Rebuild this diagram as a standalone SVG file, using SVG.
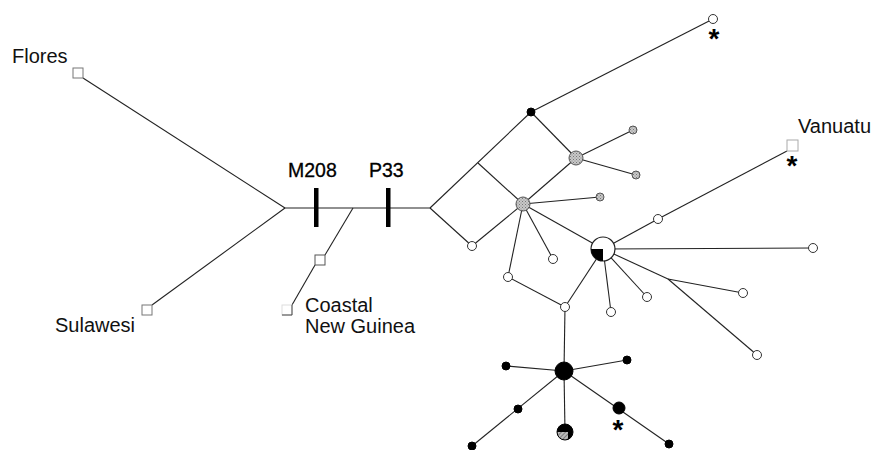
<svg xmlns="http://www.w3.org/2000/svg" width="872" height="450" viewBox="0 0 872 450">
<defs>
<style>
.lbl{font-family:"Liberation Sans",Arial,sans-serif;font-size:20px;fill:#111}
.mut{font-family:"Liberation Sans",Arial,sans-serif;font-size:19.5px;fill:#000;stroke:#000;stroke-width:0.3}
.ast{font-family:"Liberation Sans",Arial,sans-serif;font-size:28px;font-weight:bold;fill:#000;text-anchor:middle}
.e{stroke:#222;stroke-width:1.1;fill:none}
.sq{fill:#fff;stroke:#777;stroke-width:1}
.w{fill:#fff;stroke:#333;stroke-width:1}
.b{fill:#000;stroke:#000;stroke-width:1}
.g{fill:url(#stip);stroke:#555;stroke-width:1}
.bar{fill:#000}
</style>
<pattern id="stip" width="3" height="3" patternUnits="userSpaceOnUse">
<rect width="3" height="3" fill="#c8c8c8"/>
<rect width="1" height="1" fill="#777"/>
<rect x="1.5" y="1.5" width="1" height="1" fill="#888"/>
</pattern>
<pattern id="hatch" width="3" height="3" patternUnits="userSpaceOnUse" patternTransform="rotate(45)">
<rect width="3" height="3" fill="#bbb"/>
<line x1="0" y1="0" x2="0" y2="3" stroke="#555" stroke-width="1.2"/>
</pattern>
<clipPath id="hclip"><circle cx="565" cy="432" r="8"/></clipPath>
</defs>

<g id="connectors">
<line class="e" x1="83" y1="78" x2="285" y2="208"/>
<line class="e" x1="152" y1="305" x2="285" y2="208"/>
<line class="e" x1="285" y1="208" x2="430" y2="208"/>
<line class="e" x1="353" y1="208" x2="325" y2="255"/>
<line class="e" x1="315" y1="265" x2="292" y2="305"/>
<line class="e" x1="430" y1="208" x2="531" y2="112"/>
<line class="e" x1="430" y1="208" x2="472" y2="246"/>
<line class="e" x1="472" y1="246" x2="523" y2="204"/>
<line class="e" x1="478" y1="163" x2="523" y2="204"/>
<line class="e" x1="531" y1="112" x2="576" y2="158"/>
<line class="e" x1="576" y1="158" x2="523" y2="204"/>
<line class="e" x1="531" y1="112" x2="713" y2="19"/>
<line class="e" x1="576" y1="158" x2="633" y2="130"/>
<line class="e" x1="576" y1="158" x2="636" y2="175"/>
<line class="e" x1="523" y1="204" x2="600" y2="197"/>
<line class="e" x1="523" y1="204" x2="508" y2="277"/>
<line class="e" x1="523" y1="204" x2="553" y2="259"/>
<line class="e" x1="523" y1="204" x2="603" y2="249"/>
<line class="e" x1="508" y1="277" x2="565" y2="307"/>
<line class="e" x1="565" y1="307" x2="603" y2="249"/>
<line class="e" x1="565" y1="307" x2="564" y2="371"/>
<line class="e" x1="603" y1="249" x2="611" y2="312"/>
<line class="e" x1="603" y1="249" x2="647" y2="297"/>
<line class="e" x1="603" y1="249" x2="668" y2="279"/>
<line class="e" x1="668" y1="279" x2="743" y2="293"/>
<line class="e" x1="668" y1="279" x2="757" y2="355"/>
<line class="e" x1="603" y1="249" x2="813" y2="248"/>
<line class="e" x1="603" y1="249" x2="658" y2="219"/>
<line class="e" x1="658" y1="219" x2="787" y2="151"/>
<line class="e" x1="564" y1="371" x2="506" y2="366"/>
<line class="e" x1="564" y1="371" x2="627" y2="360"/>
<line class="e" x1="564" y1="371" x2="472" y2="446"/>
<line class="e" x1="564" y1="371" x2="565" y2="432"/>
<line class="e" x1="564" y1="371" x2="669" y2="444"/>
</g>

<g id="mutations">
<rect class="bar" x="314" y="188" width="4.5" height="39"/>
<rect class="bar" x="386" y="188" width="4.5" height="39"/>
<text class="mut" x="288" y="177">M208</text>
<text class="mut" x="369" y="177">P33</text>
</g>

<g id="flores"><rect class="sq" x="73" y="68" width="10" height="10"/><text class="lbl" x="12" y="63">Flores</text></g>
<g id="sulawesi"><rect class="sq" x="142" y="305" width="10" height="10"/><text class="lbl" x="55" y="332">Sulawesi</text></g>
<g id="coastal1"><rect class="sq" x="315" y="255" width="10" height="10" style="stroke:#555"/></g>
<g id="coastal2">
<rect x="282" y="305" width="10" height="10" fill="#fff" stroke="#ddd" stroke-width="1"/>
<path d="M292,305 V315 H282" fill="none" stroke="#444" stroke-width="1"/>
<text class="lbl" x="305" y="312">Coastal</text>
<text class="lbl" x="305" y="333">New Guinea</text>
</g>
<g id="vanuatu"><rect class="sq" x="787" y="140" width="11" height="11" style="stroke:#aaa"/><text class="lbl" x="798" y="133">Vanuatu</text><text class="ast" x="792" y="175">*</text></g>

<g id="n-top"><circle class="w" cx="713" cy="19" r="4.5"/><text class="ast" x="714" y="48">*</text></g>
<g id="n-black1"><circle class="b" cx="531" cy="112" r="4"/></g>
<g id="n-g1"><circle class="g" cx="576" cy="158" r="7"/></g>
<g id="n-g2"><circle class="g" cx="523" cy="204" r="7"/></g>
<g id="n-gs1"><circle class="g" cx="633" cy="130" r="4"/></g>
<g id="n-gs2"><circle class="g" cx="636" cy="175" r="4"/></g>
<g id="n-gs3"><circle class="g" cx="600" cy="197" r="4"/></g>
<g id="n-w1"><circle class="w" cx="472" cy="246" r="4.5"/></g>
<g id="n-w2"><circle class="w" cx="508" cy="277" r="4.5"/></g>
<g id="n-w3"><circle class="w" cx="553" cy="259" r="4.5"/></g>
<g id="n-w4"><circle class="w" cx="565" cy="307" r="4.5"/></g>
<g id="n-w5"><circle class="w" cx="611" cy="312" r="4.5"/></g>
<g id="n-w6"><circle class="w" cx="647" cy="297" r="4.5"/></g>
<g id="n-w7"><circle class="w" cx="658" cy="219" r="4.5"/></g>
<g id="n-w8"><circle class="w" cx="743" cy="293" r="4.5"/></g>
<g id="n-w9"><circle class="w" cx="757" cy="355" r="4.5"/></g>
<g id="n-w10"><circle class="w" cx="813" cy="248" r="4.5"/></g>
<g id="n-pie">
<circle cx="603" cy="249" r="12" fill="#fff" stroke="#222" stroke-width="1.2"/>
<path d="M603,249 H591 A12,12 0 0 0 603,261 Z" fill="#000"/>
</g>
<g id="n-bigblack"><circle class="b" cx="564" cy="371" r="9"/></g>
<g id="n-b1"><circle class="b" cx="506" cy="366" r="4"/></g>
<g id="n-b2"><circle class="b" cx="627" cy="360" r="4"/></g>
<g id="n-b3"><circle class="b" cx="518" cy="409" r="4"/></g>
<g id="n-b4"><circle class="b" cx="472" cy="446" r="4"/></g>
<g id="n-b5"><circle class="b" cx="669" cy="444" r="4"/></g>
<g id="n-b6"><circle class="b" cx="619" cy="408" r="6"/><text class="ast" x="618" y="439">*</text></g>
<g id="n-hatch">
<circle cx="565" cy="432" r="8" fill="#000"/>
<rect x="556" y="432" width="12" height="10" fill="url(#hatch)" clip-path="url(#hclip)"/>
<circle cx="565" cy="432" r="8" fill="none" stroke="#000" stroke-width="1"/>
</g>
</svg>
